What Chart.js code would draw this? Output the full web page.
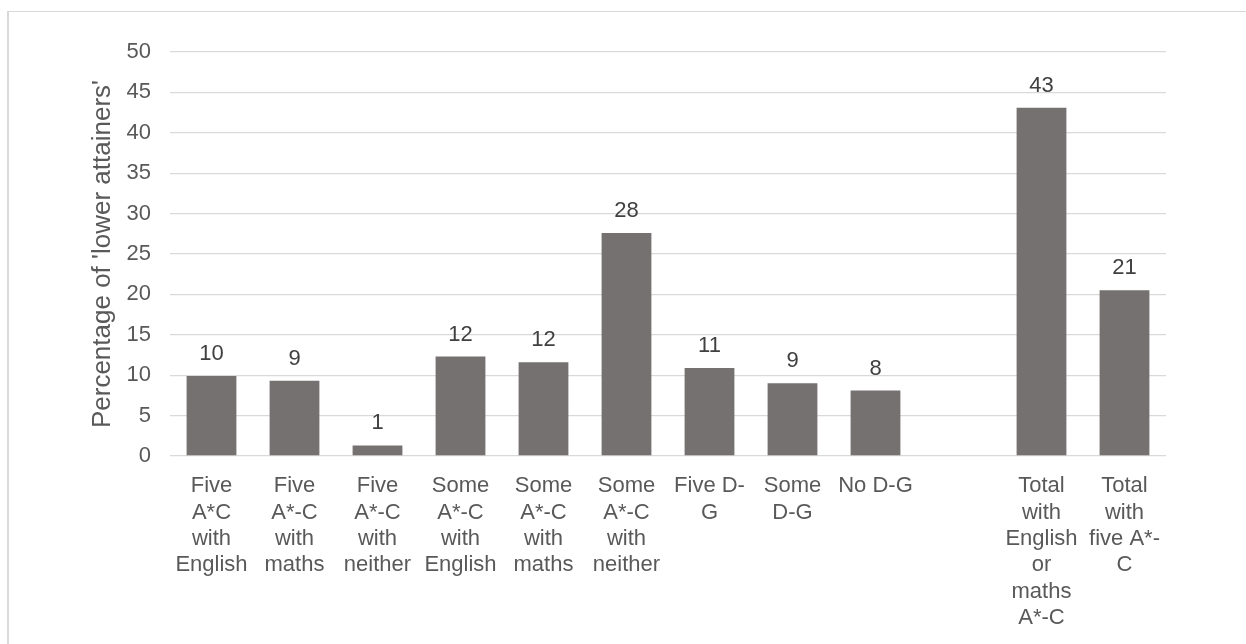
<!DOCTYPE html>
<html>
<head>
<meta charset="utf-8">
<script src="https://cdn.jsdelivr.net/npm/chart.js@4.4.1/dist/chart.umd.min.js"></script>
<style>
  html, body { margin: 0; padding: 0; background: #ffffff; }
  #wrap { position: relative; width: 1246px; height: 644px; overflow: hidden; }
  #frame {
    position: absolute; left: 7px; top: 11px; width: 1300px; height: 700px;
    border-left: 2px solid #d9d9d9; border-top: 1px solid #d9d9d9;
  }
  #c { position: absolute; left: 0; top: 0; }
</style>
</head>
<body>
<div id="wrap">
  <div id="frame"></div>
  <canvas id="c" width="1246" height="644"></canvas>
</div>
<script>
// Categories of GCSE outcome (multi-line labels); the blank slot separates the totals
const categories = [
  ['Five', 'A*C', 'with', 'English'],
  ['Five', 'A*-C', 'with', 'maths'],
  ['Five', 'A*-C', 'with', 'neither'],
  ['Some', 'A*-C', 'with', 'English'],
  ['Some', 'A*-C', 'with', 'maths'],
  ['Some', 'A*-C', 'with', 'neither'],
  ['Five D-', 'G'],
  ['Some', 'D-G'],
  ['No D-G'],
  '',
  ['Total', 'with', 'English', 'or', 'maths', 'A*-C'],
  ['Total', 'with', 'five A*-', 'C']
];

// Percentage of 'lower attainers' in each category
const percentages = [9.9, 9.3, 1.3, 12.3, 11.6, 27.6, 10.9, 9.0, 8.1, null, 43.1, 20.5];

// Value axis
const yMin = 0;
const yMax = 50;
const yStep = 5;
const yTitle = "Percentage of 'lower attainers'";

const FONT = 'Liberation Sans, Arial, Helvetica, sans-serif';

// Rounded value printed above each bar
const barValueLabels = {
  id: 'barValueLabels',
  afterDatasetsDraw(chart) {
    const ctx = chart.ctx;
    const meta = chart.getDatasetMeta(0);
    const data = chart.data.datasets[0].data;
    ctx.save();
    ctx.fillStyle = '#404040';
    ctx.font = '22px ' + FONT;
    ctx.textAlign = 'center';
    ctx.textBaseline = 'alphabetic';
    meta.data.forEach((bar, i) => {
      const v = data[i];
      if (v === null || v === undefined) return;
      ctx.fillText(String(Math.round(v)), bar.x, bar.y - 16);
    });
    ctx.restore();
  }
};

new Chart(document.getElementById('c'), {
  type: 'bar',
  data: {
    labels: categories,
    datasets: [{
      data: percentages,
      backgroundColor: '#767171',
      borderWidth: 0,
      categoryPercentage: 1.0,
      barPercentage: 0.6
    }]
  },
  options: {
    responsive: false,
    animation: false,
    events: [],
    layout: { padding: { left: 80, right: 80, top: 52, bottom: 0 } },
    plugins: {
      legend: { display: false },
      tooltip: { enabled: false },
      title: { display: false }
    },
    scales: {
      x: {
        grid: { display: false, drawTicks: false },
        border: { display: false },
        ticks: {
          color: '#595959',
          font: { family: FONT, size: 22 },
          padding: 17,
          maxRotation: 0,
          minRotation: 0,
          autoSkip: false
        },
        afterFit(scale) { scale.height = 188; }
      },
      y: {
        min: yMin,
        max: yMax,
        grid: { color: '#d9d9d9', lineWidth: 1.3, drawTicks: false },
        border: { display: false },
        ticks: {
          stepSize: yStep,
          color: '#595959',
          font: { family: FONT, size: 22 },
          padding: 19
        },
        title: {
          display: true,
          text: yTitle,
          color: '#595959',
          font: { family: FONT, size: 26 },
          padding: { top: 7, bottom: 0 }
        },
        afterFit(scale) { scale.width = 90; }
      }
    }
  },
  plugins: [barValueLabels]
});
</script>
</body>
</html>
